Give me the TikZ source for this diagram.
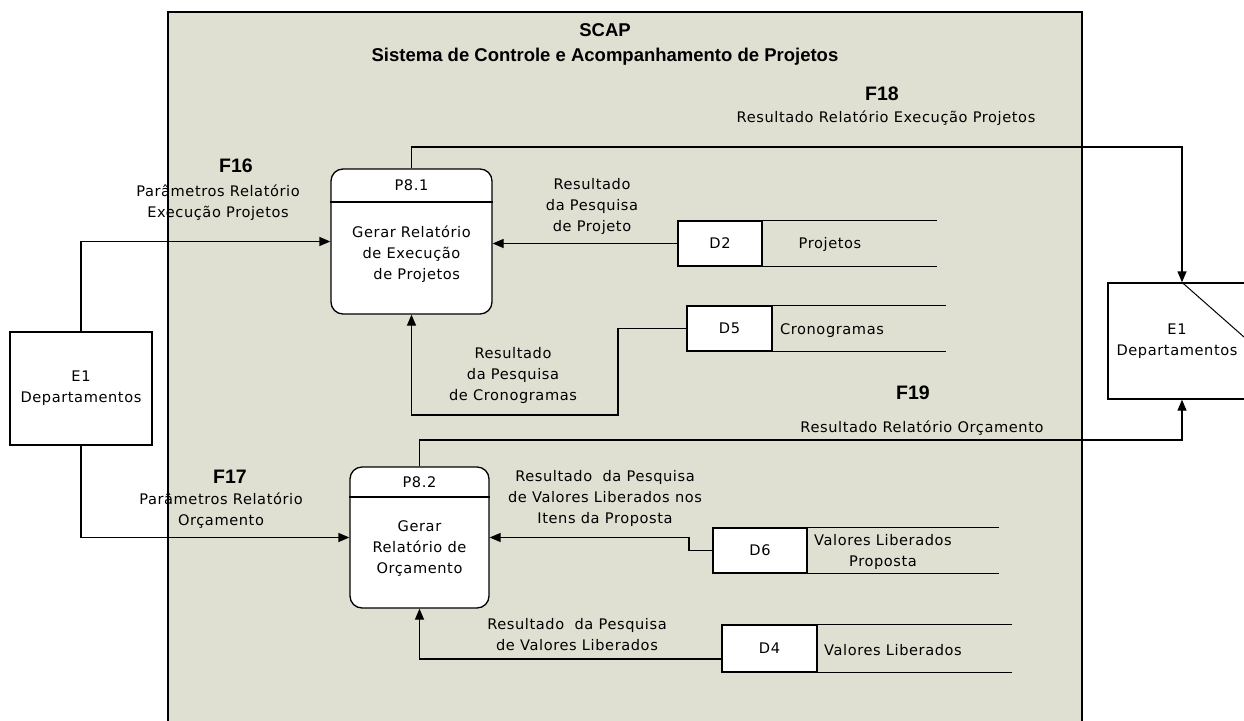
\documentclass[tikz,border=0pt]{standalone}
\usepackage{fontspec}
\setmainfont{DejaVu Sans}[LetterSpace=4]
\newfontfamily\titlefont{Liberation Sans}
\usetikzlibrary{arrows.meta,calc}
\definecolor{bgsys}{RGB}{223,224,210}
\tikzset{
  lbl/.style={inner sep=0pt, align=center, font=\fontsize{14.6}{21}\selectfont},
  flab/.style={inner sep=0pt, font=\titlefont\bfseries\fontsize{19.5}{20}\selectfont},
  ttl/.style={inner sep=0pt, align=center, font=\titlefont\bfseries\fontsize{18.5}{25}\selectfont},
  ent/.style={draw, fill=white, line width=1.3pt, inner sep=0pt},
  proc/.style={draw, fill=white, line width=1.3pt, rounded corners=12pt, inner sep=0pt},
  dsbox/.style={draw, fill=white, line width=1.3pt, inner sep=0pt, font=\fontsize{14.6}{21}\selectfont},
  dsline/.style={line width=1.3pt},
  flow/.style={line width=1.3pt, -{Triangle[length=11pt,width=9pt]}},
}
\begin{document}
\begin{tikzpicture}[x=1pt,y=-1pt]
\useasboundingbox (0,0) rectangle (1244,720);
\fill[white] (0,0) rectangle (1244,720);
% system boundary
\draw[fill=bgsys, line width=1.3pt] (168,12) rectangle (1082,730);
\node[ttl] (title) at (605,44) {SCAP\\Sistema de Controle e Acompanhamento de Projetos};

% external entities
\node[ent, minimum width=142pt, minimum height=113pt] (e1l) at (81,388.5) {};
\node[lbl] (e1ltxt) at (81,388.5) {E1\\Departamentos};
\node[ent, minimum width=138pt, minimum height=116pt] (e1r) at (1177,341) {};
\node[lbl] (e1rtxt) at (1177,341) {E1\\Departamentos};

% processes
\node[proc, minimum width=161pt, minimum height=145pt] (p81) at (411.5,241.5) {};
\draw[line width=1.3pt] (p81.west |- 0,202) -- (p81.east |- 0,202);
\node[lbl] (p81id) at (411.5,185.5) {P8.1};
\node[lbl] (p81txt) at (411.5,254) {Gerar Relatório\\de Execução\\\ \ de Projetos};

\node[proc, minimum width=139pt, minimum height=141pt] (p82) at (419.5,537.5) {};
\draw[line width=1.3pt] (p82.west |- 0,497) -- (p82.east |- 0,497);
\node[lbl] (p82id) at (419.5,482) {P8.2};
\node[lbl] (p82txt) at (419.5,548) {Gerar\\Relatório de\\Orçamento};

% data stores
\node[dsbox, minimum width=84pt, minimum height=45pt] (d2) at (720,243.5) {D2};
\draw[dsline] (d2.north west) -- ++(260,0);
\draw[dsline] (d2.south west) -- ++(260,0);
\node[lbl] (d2txt) at (830,244) {Projetos};

\node[dsbox, minimum width=85pt, minimum height=45pt] (d5) at (729.5,328.5) {D5};
\draw[dsline] (d5.north west) -- ++(260,0);
\draw[dsline] (d5.south west) -- ++(260,0);
\node[lbl] (d5txt) at (832,331) {Cronogramas};

\node[dsbox, minimum width=94pt, minimum height=45pt] (d6) at (760,550.5) {D6};
\draw[dsline] (d6.north west) -- ++(287,0);
\draw[dsline] (d6.south west) -- ++(287,0);
\node[lbl] (d6txt) at (883,551.5) {Valores Liberados\\Proposta};

\node[dsbox, minimum width=95pt, minimum height=47pt] (d4) at (769.5,648.5) {D4};
\draw[dsline] (d4.north west) -- ++(291,0);
\draw[dsline] (d4.south west) -- ++(291,0);
\node[lbl] (d4txt) at (893,650) {Valores Liberados};

% flows
\draw[flow] (e1l.north) |- (p81.west);
\node[flab] (f16) at (236,166) {F16};
\node[lbl] (f16txt) at (218,203) {Parâmetros Relatório\\Execução Projetos};

\draw[flow] (e1l.south) |- (p82.west);
\node[flab] (f17) at (230,477) {F17};
\node[lbl] (f17txt) at (221,510.5) {Parâmetros Relatório\\Orçamento};

\draw[flow] (d2.west) -- (d2.west -| p81.east);
\node[lbl] (d2flow) at (592,206) {Resultado\\da Pesquisa\\de Projeto};

\coordinate (k5) at (618,415);
\draw[flow] (d5.west) -| (k5) -| (p81.south);
\node[lbl] (d5flow) at (513,375) {Resultado\\da Pesquisa\\de Cronogramas};

\coordinate (k6) at (689,550.5);
\draw[flow] (d6.west) -- (k6) |- (p82.east);
\node[lbl] (d6flow) at (605,498) {Resultado\ \ da Pesquisa\\de Valores Liberados nos\\Itens da Proposta};

\draw[flow] ([yshift=-10.5pt]d4.west) -| (p82.south);
\node[lbl] (d4flow) at (577,635) {Resultado\ \ da Pesquisa\\de Valores Liberados};

\coordinate (k18) at (1182,147);
\draw[flow] (p81.north) |- (k18) -- (k18 |- e1r.north);
\draw[line width=1pt] (k18 |- e1r.north) -- (1244,337);
\node[flab] (f18) at (882,94) {F18};
\node[lbl] (f18txt) at (886,118) {Resultado Relatório Execução Projetos};

\coordinate (k19) at (1182,440);
\draw[flow] (p82.north) |- (k19) -- (k19 |- e1r.south);
\node[flab] (f19) at (913,393) {F19};
\node[lbl] (f19txt) at (922,428) {Resultado Relatório Orçamento};
\end{tikzpicture}
\end{document}
